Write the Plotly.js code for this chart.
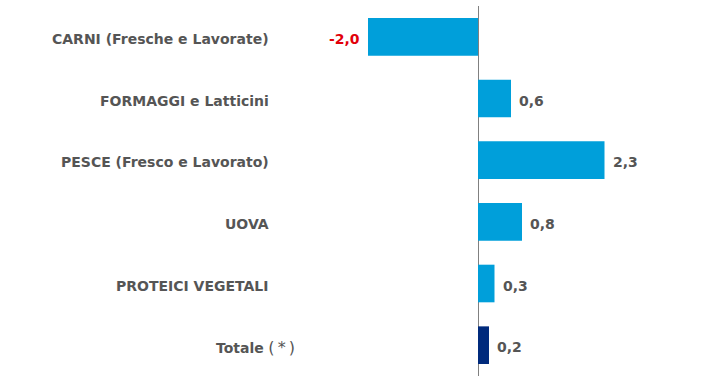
<!DOCTYPE html>
<html>
<head>
<meta charset="utf-8">
<script src="https://cdn.plot.ly/plotly-3.0.1.min.js"></script>
<style>html,body{margin:0;padding:0;background:#fff;}#chart{width:711px;height:378px;}</style>
</head>
<body>
<div id="chart"></div>
<script>
const categories = ["CARNI (Fresche e Lavorate)", "FORMAGGI e Latticini", "PESCE (Fresco e Lavorato)", "UOVA", "PROTEICI VEGETALI", "Totale (*)"];
const values = [-2.0, 0.6, 2.3, 0.8, 0.3, 0.2];
const valueLabels = ["-2,0", "0,6", "2,3", "0,8", "0,3", "0,2"];
const barColors = ["#009FDA", "#009FDA", "#009FDA", "#009FDA", "#009FDA", "#002A7C"];

const W = 711, zeroPx = 478, pxPerUnit = 55;
const xRange = [-zeroPx / pxPerUnit, (W - zeroPx) / pxPerUnit];
const font = "DejaVu Sans, Verdana, sans-serif";

const annotations = [];
categories.forEach((c, i) => {
  annotations.push({
    xref: "paper", yref: "y", x: (i === 5 ? 297 : 271) / W, y: c,
    xanchor: "right", yanchor: "middle", showarrow: false, yshift: -2,
    text: i === 5 ? "<b>Totale</b> <span style='font-size:16px'>(\u2009*\u2009)</span>" : "<b>" + c + "</b>",
    font: {family: font, size: 14, color: "#555555"}
  });
  const neg = values[i] < 0;
  annotations.push({
    xref: "x", yref: "y", x: values[i], y: c,
    xanchor: neg ? "right" : "left", yanchor: "middle", showarrow: false,
    xshift: neg ? -6 : 6, yshift: -2,
    text: "<b>" + valueLabels[i] + "</b>",
    font: {family: font, size: 14, color: neg ? "#E2000A" : "#555555"}
  });
});

const trace = {
  type: "bar", orientation: "h",
  x: values, y: categories,
  width: 0.61,
  marker: {color: barColors, line: {width: 0}},
  hoverinfo: "none"
};

const layout = {
  width: W, height: 378,
  margin: {l: 0, r: 0, t: 6, b: 2},
  paper_bgcolor: "#fff", plot_bgcolor: "#fff",
  showlegend: false,
  xaxis: {range: xRange, showgrid: false, showticklabels: false, ticks: "",
          zeroline: true, zerolinecolor: "#808080", zerolinewidth: 1, fixedrange: true},
  yaxis: {type: "category", categoryorder: "array", categoryarray: categories,
          range: [5.5, -0.5], showgrid: false, showticklabels: false, ticks: "",
          zeroline: false, showline: false},
  annotations: annotations
};

Plotly.newPlot("chart", [trace], layout, {staticPlot: true, displayModeBar: false});
</script>
</body>
</html>
